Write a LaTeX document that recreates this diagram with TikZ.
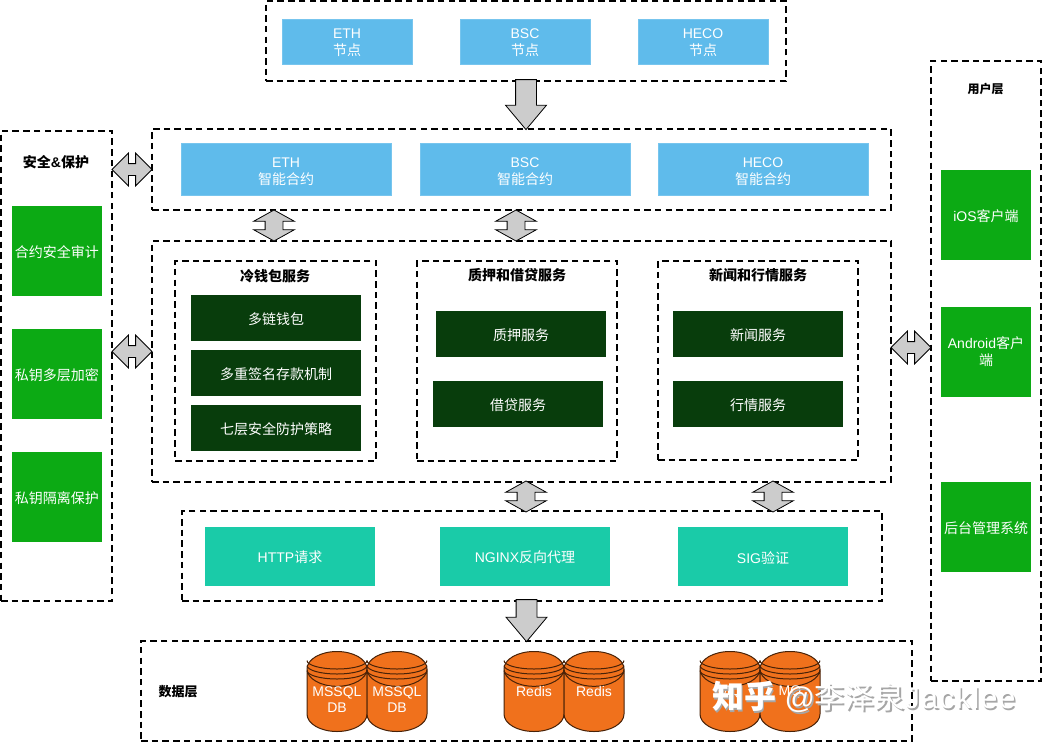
\documentclass[tikz,border=0pt]{standalone}
\usepackage{fontspec}
\setmainfont{Liberation Sans}
\newfontfamily\cjk{Noto Sans CJK SC}
\newfontfamily\marklatin[LetterSpace=5]{Liberation Sans}
\usetikzlibrary{shapes.geometric, shapes.arrows}
\definecolor{chainblue}{RGB}{95,187,235}
\definecolor{safegreen}{RGB}{12,170,20}
\definecolor{darkgreen}{RGB}{8,61,12}
\definecolor{gatewayteal}{RGB}{26,203,168}
\definecolor{dborange}{RGB}{240,113,28}
\definecolor{arrowgray}{RGB}{204,204,204}
\tikzset{
    layerbox/.style={draw=black, line width=1.5pt, dash pattern=on 6.5pt off 4.2pt, inner sep=0pt},
    toprule/.style={execute at begin node={\rule{0pt}{#1}}},
    fillbox/.style={inner sep=0pt, text=white, align=center, font=\fontsize{14}{17}\selectfont, toprule=14pt},
    chainbox/.style={fillbox, fill=chainblue, draw=chainblue!85!white, line width=0.5pt},
    safebox/.style={fillbox, fill=safegreen, minimum width=90, minimum height=90},
    servicebox/.style={fillbox, fill=darkgreen, minimum width=170, minimum height=46},
    gatebox/.style={fillbox, fill=gatewayteal, minimum width=170, minimum height=59, toprule=13pt},
    titletext/.style={inner sep=0pt, font=\fontsize{14}{16}\selectfont\bfseries},
    dbnode/.style={cylinder, shape border rotate=90, aspect=0.58, draw=black!70!dborange, fill=dborange, line width=1pt,
        minimum width=60, minimum height=80, inner xsep=30pt, inner ysep=0pt, anchor=shape center},
    dbtext/.style={inner sep=0pt, text=white, align=center, font=\fontsize{14}{16}\selectfont},
    blockdown/.style={single arrow, draw=black, fill=arrowgray, line width=0.8pt, inner xsep=0pt, inner ysep=10pt,
        single arrow head extend=10pt, single arrow tip angle=80, sloped, pos=1, anchor=tip},
    sidearrow/.style={double arrow, draw=black, fill=arrowgray, line width=0.8pt, inner xsep=0pt, inner ysep=5.5pt,
        double arrow head extend=10.5pt, double arrow tip angle=90, minimum height=40, midway, sloped},
    gaparrow/.style={double arrow, draw=black, fill=arrowgray, line width=0.8pt, inner xsep=0pt, inner ysep=8.5pt,
        double arrow head extend=11.5pt, double arrow tip angle=122, minimum height=31, midway, sloped}
}
\begin{document}
\begin{tikzpicture}[x=1pt, y=-1pt]
    \useasboundingbox (0,0) rectangle (1042,742);

    % Source chains
    \node[layerbox, minimum width=520, minimum height=80] (chains) at (526,41) {};
    \node[chainbox, toprule=29pt, minimum width=130, minimum height=45] (ethnode) at (347,41.5) {ETH\\{\cjk 节点}};
    \node[chainbox, toprule=29pt, minimum width=130, minimum height=45] (bscnode) at (525,41.5) {BSC\\{\cjk 节点}};
    \node[chainbox, toprule=29pt, minimum width=130, minimum height=45] (heconode) at (703,41.5) {HECO\\{\cjk 节点}};

    % Smart contracts
    \node[layerbox, minimum width=739, minimum height=81] (contracts) at (521.5,169.5) {};
    \node[chainbox, toprule=33pt, minimum width=210, minimum height=52] (ethsc) at (286,169) {ETH\\{\cjk 智能合约}};
    \node[chainbox, toprule=33pt, minimum width=210, minimum height=52] (bscsc) at (525,169) {BSC\\{\cjk 智能合约}};
    \node[chainbox, toprule=33pt, minimum width=210, minimum height=52] (hecosc) at (763,169) {HECO\\{\cjk 智能合约}};

    % Services
    \node[layerbox, minimum width=739, minimum height=241] (services) at (521.5,361.5) {};
    \node[layerbox, minimum width=201, minimum height=200] (coldbox) at (275.5,361) {};
    \node[layerbox, minimum width=200, minimum height=200] (loanbox) at (517,361) {};
    \node[layerbox, minimum width=200, minimum height=199] (newsbox) at (758,360.5) {};
    \node[titletext] (coldtitle) at (275,276) {\cjk\bfseries 冷钱包服务};
    \node[titletext] (loantitle) at (517,275) {\cjk\bfseries 质押和借贷服务};
    \node[titletext] (newstitle) at (758,275) {\cjk\bfseries 新闻和行情服务};
    \node[servicebox] (wallet) at (276,318) {\cjk 多链钱包};
    \node[servicebox] (multisig) at (276,373) {\cjk 多重签名存款机制};
    \node[servicebox] (guard) at (276,428) {\cjk 七层安全防护策略};
    \node[servicebox] (pledge) at (521,334) {\cjk 质押服务};
    \node[servicebox] (loan) at (518,404) {\cjk 借贷服务};
    \node[servicebox] (news) at (758,334) {\cjk 新闻服务};
    \node[servicebox] (market) at (758,404) {\cjk 行情服务};

    % Gateway
    \node[layerbox, minimum width=700, minimum height=90] (gateway) at (532,556) {};
    \node[gatebox] (http) at (290,556.5) {HTTP{\cjk 请求}};
    \node[gatebox] (nginx) at (525,556.5) {NGINX{\cjk 反向代理}};
    \node[gatebox] (sig) at (763,556.5) {SIG{\cjk 验证}};

    % Data layer
    \node[layerbox, minimum width=771, minimum height=100] (data) at (526.5,691) {};
    \node[titletext, font=\fontsize{13}{15}\selectfont] (datatitle) at (178,692) {\cjk\bfseries 数据层};
    \node[dbnode] (dba) at (337,691.5) {};
    \node[dbnode] (dbb) at (397,691.5) {};
    \node[dbnode] (dbc) at (534,691.5) {};
    \node[dbnode] (dbd) at (594,691.5) {};
    \node[dbnode] (dbe) at (730,691.5) {};
    \node[dbnode] (dbf) at (790,691.5) {};
    \foreach \db in {dba,dbb,dbc,dbd,dbe,dbf}
        \foreach \off in {-31,-26,-21}
            \draw[draw=black!70!dborange, line width=1pt] ([shift={(-30pt,-\off pt)}]\db.shape center) arc[start angle=180, end angle=360, x radius=30pt, y radius=8.5pt];
    \node[dbtext] (dbatext) at ([yshift=-8pt]dba.shape center) {MSSQL\\DB};
    \node[dbtext] (dbbtext) at ([yshift=-8pt]dbb.shape center) {MSSQL\\DB};
    \node[dbtext] (dbctext) at (dbc.shape center) {Redis};
    \node[dbtext] (dbdtext) at (dbd.shape center) {Redis};
    \node[dbtext] (dbetext) at (dbe.shape center) {MQ};
    \node[dbtext] (dbftext) at (dbf.shape center) {MQ};

    % Safety column
    \node[layerbox, minimum width=111, minimum height=470] (safety) at (56.5,366) {};
    \node[titletext] (safetitle) at (56,162) {{\cjk\bfseries 安全}\&{\cjk\bfseries 保护}};
    \node[safebox] (audit) at (57,251) {\cjk 合约安全审计};
    \node[safebox] (layered) at (57,374) {\cjk 私钥多层加密};
    \node[safebox] (isolate) at (57,497) {\cjk 私钥隔离保护};

    % User column
    \node[layerbox, minimum width=110, minimum height=620] (users) at (986,371) {};
    \node[titletext, font=\fontsize{12}{14}\selectfont] (usertitle) at (985.5,89) {\cjk\bfseries 用户层};
    \node[safebox, toprule=13pt] (ios) at (986,215) {iOS{\cjk 客户端}};
    \node[safebox, toprule=29pt] (android) at (986,352) {Android{\cjk 客户}\\{\cjk 端}};
    \node[safebox, toprule=13pt] (admin) at (986,527) {\cjk 后台管理系统};

    % Block arrows between the layers
    \path (chains.south) -- ([yshift=-2pt]chains.south |- contracts.north) node[blockdown, minimum height=50] (arrowa) {};
    \path (gateway.south -| data.north) -- ([yshift=-2pt]data.north) node[blockdown, minimum height=42] (arrowb) {};
    \path (safety.east |- contracts.west) -- (contracts.west) node[sidearrow] (arrowc) {};
    \path (services.west) ++(0,-10) coordinate (ca) (safety.east |- ca) -- (ca) node[sidearrow] (arrowd) {};
    \path (services.east) ++(0,-14) coordinate (cb) -- (users.west |- cb) node[sidearrow] (arrowe) {};
    \path (ethsc.south |- contracts.south) ++(-12,0) coordinate (cc) -- (cc |- services.north) node[gaparrow] (arrowf) {};
    \path (bscsc.south |- contracts.south) ++(-9,0) coordinate (cd) -- (cd |- services.north) node[gaparrow] (arrowg) {};
    \path (nginx.north |- services.south) ++(1,0) coordinate (ce) -- (ce |- gateway.north) node[gaparrow] (arrowh) {};
    \path (sig.north |- services.south) ++(10,0) coordinate (cf) -- (cf |- gateway.north) node[gaparrow] (arrowi) {};

    % Site mark over the picture
    \node[anchor=west, inner sep=0pt, text=black!35, font=\fontsize{32}{34}\selectfont] (markshade) at (713.5,698.5) {{\cjk\bfseries 知乎}\fontsize{30}{32}\selectfont\ @{\cjk 李泽泉}{\marklatin Jacklee}};
    \node[anchor=west, inner sep=0pt, text=white, font=\fontsize{32}{34}\selectfont] (mark) at (712,697) {{\cjk\bfseries 知乎}\fontsize{30}{32}\selectfont\ @{\cjk 李泽泉}{\marklatin Jacklee}};
\end{tikzpicture}
\end{document}
